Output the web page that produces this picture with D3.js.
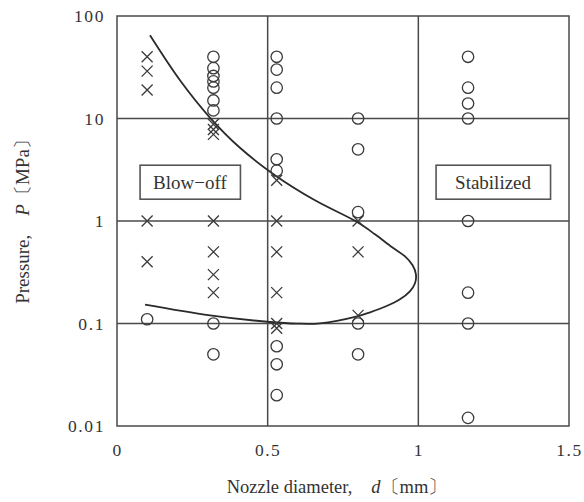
<!DOCTYPE html>
<html>
<head>
<meta charset="utf-8">
<script src="https://cdn.jsdelivr.net/npm/d3@7"></script>
<style>
  html, body { margin: 0; padding: 0; background: #fff; }
  svg { display: block; }
  text { font-family: "Liberation Serif", "Times New Roman", serif; fill: #333; }
</style>
</head>
<body>
<svg id="chart" width="584" height="502"></svg>
<script>
// Nozzle diameter d [mm] vs. pressure P [MPa]
// Stabilized flames (circles)
const stabilizedPoints = [
  [0.1, 0.11],
  [0.32, 40], [0.32, 31], [0.32, 26], [0.32, 23], [0.32, 20], [0.32, 15], [0.32, 12],
  [0.32, 0.1], [0.32, 0.05],
  [0.53, 40], [0.53, 30], [0.53, 20], [0.53, 10], [0.53, 4], [0.53, 3.1],
  [0.53, 0.06], [0.53, 0.04], [0.53, 0.02],
  [0.8, 10], [0.8, 5], [0.8, 1.22], [0.8, 0.1], [0.8, 0.05],
  [1.165, 40], [1.165, 20], [1.165, 14], [1.165, 10], [1.165, 1], [1.165, 0.2],
  [1.165, 0.1], [1.165, 0.012]
];
// Blow-off (crosses)
const blowoffPoints = [
  [0.1, 40], [0.1, 29], [0.1, 19], [0.1, 1], [0.1, 0.4],
  [0.32, 8.8], [0.32, 7.8], [0.32, 7.0], [0.32, 1], [0.32, 0.5], [0.32, 0.3], [0.32, 0.2],
  [0.53, 2.5], [0.53, 1], [0.53, 0.5], [0.53, 0.2], [0.53, 0.1], [0.53, 0.09],
  [0.8, 1], [0.8, 0.5], [0.8, 0.12]
];
// Stability boundary: upper branch, nose, lower branch
const boundaryCurve = [
  [0.1095, 64.8], [0.209, 23.6], [0.309, 10.16], [0.408, 5.18], [0.524, 2.80],
  [0.657, 1.592], [0.797, 0.976], [0.856, 0.742], [0.913, 0.554], [0.956, 0.452],
  [0.981, 0.370], [0.992, 0.302], [0.989, 0.2467], [0.972, 0.206], [0.939, 0.1722],
  [0.893, 0.1472], [0.840, 0.1286], [0.797, 0.1175], [0.674, 0.1005], [0.597, 0.0998],
  [0.508, 0.1034], [0.309, 0.1202], [0.093, 0.1529]
];
const xTicks = [0, 0.5, 1, 1.5];
const xTickLabels = ["0", "0.5", "1", "1.5"];
const yTicks = [100, 10, 1, 0.1, 0.01];
const yTickLabels = ["100", "10", "1", "0.1", "0.01"];
const regionLabels = [
  { text: "Blow\u2212off", d: 0.242, p: 2.39 },
  { text: "Stabilized", d: 1.248, p: 2.39 }
];

const svg = d3.select("#chart");
const margin = { left: 117, top: 16 };
const W = 452, H = 410;
const x = d3.scaleLinear().domain([0, 1.5]).range([0, W]);
const y = d3.scaleLog().domain([0.01, 100]).range([H, 0]);

const g = svg.append("g").attr("transform", `translate(${margin.left},${margin.top})`);
const lineColor = "#4a4a4a";

// grid lines
g.selectAll("line.vgrid").data([0.5, 1]).join("line")
  .attr("x1", d => x(d)).attr("x2", d => x(d))
  .attr("y1", 0).attr("y2", H)
  .attr("stroke", lineColor).attr("stroke-width", 1.5);
g.selectAll("line.hgrid").data([10, 1, 0.1]).join("line")
  .attr("y1", d => y(d)).attr("y2", d => y(d))
  .attr("x1", 0).attr("x2", W)
  .attr("stroke", lineColor).attr("stroke-width", 1.5);
// frame
g.append("rect").attr("x", 0).attr("y", 0).attr("width", W).attr("height", H)
  .attr("fill", "none").attr("stroke", lineColor).attr("stroke-width", 1.5);

// axes (labels only)
const xAxis = d3.axisBottom(x).tickValues(xTicks)
  .tickFormat((d, i) => xTickLabels[i]).tickSize(0).tickPadding(0);
const xa = g.append("g").attr("transform", `translate(0,${H})`).call(xAxis);
xa.select(".domain").remove();
xa.selectAll("text").attr("y", 30).attr("dy", 0)
  .style("font-size", "17.5px").style("letter-spacing", "1.5px")
  .style("font-family", '"Liberation Serif", serif').attr("fill", "#333");

const yAxis = d3.axisLeft(y).tickValues(yTicks)
  .tickFormat((d, i) => yTickLabels[i]).tickSize(0).tickPadding(0);
const ya = g.append("g").call(yAxis);
ya.select(".domain").remove();
ya.selectAll("text").attr("x", -12).attr("dy", "0.34em")
  .style("font-size", "17.5px").style("letter-spacing", "1.6px")
  .style("font-family", '"Liberation Serif", serif').attr("fill", "#333");

// region labels with boxes
const boxLayer = g.append("g");
const labelLayer = g.append("g");
const boxPad = [13, 19];
regionLabels.forEach((r, i) => {
  const t = labelLayer.append("text")
    .attr("x", x(r.d)).attr("y", y(r.p))
    .attr("text-anchor", "middle").attr("dy", "0.35em")
    .style("font-size", "19px").text(r.text);
  const bb = t.node().getBBox();
  boxLayer.append("rect")
    .attr("x", bb.x - boxPad[i]).attr("y", y(r.p) - 17)
    .attr("width", bb.width + 2 * boxPad[i]).attr("height", 34)
    .attr("fill", "#fff").attr("stroke", "#555").attr("stroke-width", 1.6);
});

// boundary curve
const line = d3.line().x(d => x(d[0])).y(d => y(d[1]))
  .curve(d3.curveCatmullRom.alpha(0.5));
g.append("path").datum(boundaryCurve)
  .attr("d", line).attr("fill", "none")
  .attr("stroke", "#2a2a2a").attr("stroke-width", 1.8);

// stabilized circles
g.selectAll("circle.stab").data(stabilizedPoints).join("circle")
  .attr("cx", d => x(d[0])).attr("cy", d => y(d[1])).attr("r", 5.7)
  .attr("fill", "none").attr("stroke", "#3a3a3a").attr("stroke-width", 1.3);

// blow-off crosses
const s = 5.5;
g.selectAll("path.blow").data(blowoffPoints).join("path")
  .attr("d", d => {
    const cx = x(d[0]), cy = y(d[1]);
    return `M${cx - s},${cy - s}L${cx + s},${cy + s}M${cx - s},${cy + s}L${cx + s},${cy - s}`;
  })
  .attr("fill", "none").attr("stroke", "#3a3a3a").attr("stroke-width", 1.3);

// axis titles
svg.append("text")
  .attr("x", 337).attr("y", 493)
  .attr("text-anchor", "middle").style("font-size", "18.5px")
  .html('Nozzle diameter,\u3000<tspan font-style="italic">d</tspan>\u3014mm\u3015');

svg.append("text")
  .attr("transform", `translate(29,${margin.top + 201}) rotate(-90)`)
  .attr("text-anchor", "middle").style("font-size", "19px")
  .html('Pressure,\u3000<tspan font-style="italic">P</tspan>\u3014MPa\u3015');
</script>
</body>
</html>
